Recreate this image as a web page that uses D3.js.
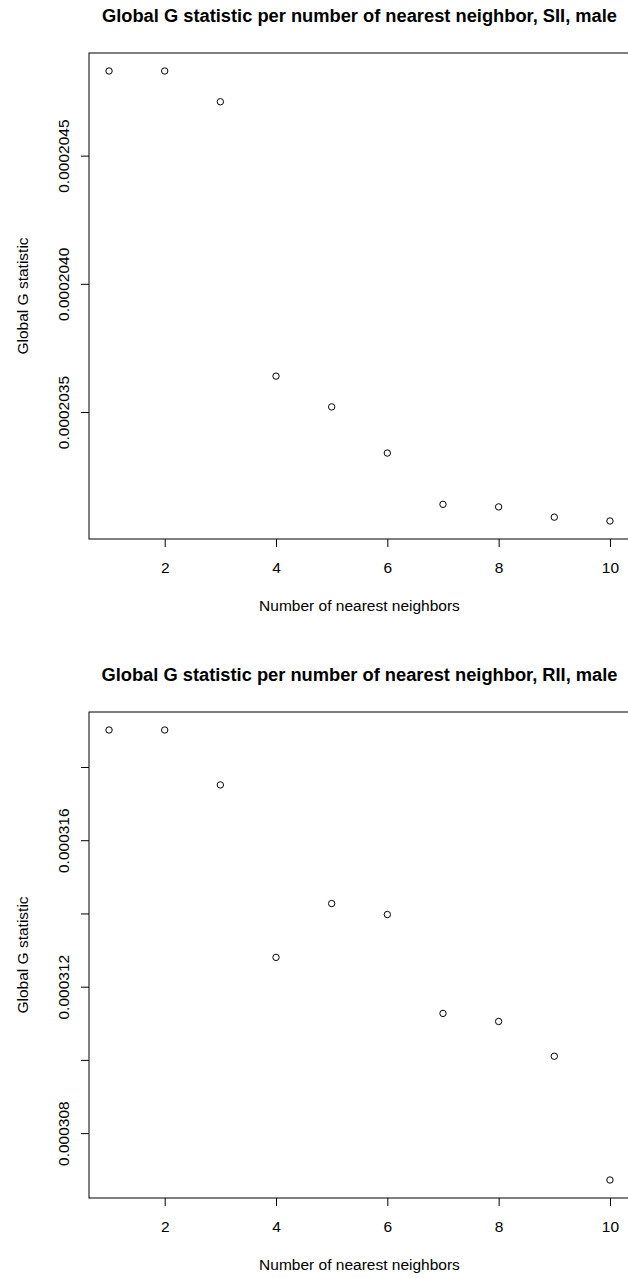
<!DOCTYPE html>
<html>
<head>
<meta charset="utf-8">
<script src="https://cdn.jsdelivr.net/npm/d3@7"></script>
<style>
  body { margin: 0; background: #fff; }
  text { font-family: "Liberation Sans", Arial, Helvetica, sans-serif; fill: #000; }
</style>
</head>
<body>
<svg id="chart" width="628" height="1278"></svg>
<script>
// Data
const neighbors = [1, 2, 3, 4, 5, 6, 7, 8, 9, 10];
const sIIValues = [0.00020483, 0.00020483, 0.00020471, 0.00020364, 0.00020352,
  0.00020334, 0.00020314, 0.00020313, 0.00020309, 0.000203075];
const rIIValues = [0.00031901, 0.00031901, 0.00031751, 0.00031280, 0.00031427,
  0.00031397, 0.00031127, 0.00031105, 0.00031010, 0.00030672];

const xTicks = [2, 4, 6, 8, 10];
const sIITicks = [0.0002035, 0.000204, 0.0002045];
const sIILabels = ["0.0002035", "0.0002040", "0.0002045"];
const rIITicks = [0.000308, 0.00031, 0.000312, 0.000314, 0.000316, 0.000318];
const rIILabels = ["0.000308", "", "0.000312", "", "0.000316", ""];

const titles = [
  "Global G statistic per number of nearest neighbor, SII, male",
  "Global G statistic per number of nearest neighbor, RII, male"
];
const xTitle = "Number of nearest neighbors";
const yTitle = "Global G statistic";

const svg = d3.select("#chart");
const axisFont = "15.5px";
const titleFont = "18.3px";

// R style padding of 4% on each side
function padded(ext) {
  const p = (ext[1] - ext[0]) * 0.04;
  return [ext[0] - p, ext[1] + p];
}

function drawPanel(top, values, yTicks, yLabels, title) {
  const left = 89, right = 630, bottom = top + 486;
  const g = svg.append("g");

  const x = d3.scaleLinear().domain(padded([1, 10])).range([left, right]);
  const y = d3.scaleLinear().domain(padded(d3.extent(values))).range([bottom, top]);

  // title
  g.append("text")
    .attr("x", (left + right) / 2)
    .attr("y", top - 31)
    .attr("text-anchor", "middle")
    .style("font-weight", "bold")
    .style("font-size", titleFont)
    .text(title);

  // x axis
  const xAxis = g.append("g")
    .attr("transform", `translate(0,${bottom})`)
    .call(d3.axisBottom(x).tickValues(xTicks).tickSize(8).tickSizeOuter(0).tickPadding(14.5));
  xAxis.select(".domain").remove();
  xAxis.selectAll("text").style("font-size", axisFont).attr("fill", "#000")
    .style("font-family", "Liberation Sans, Arial, sans-serif");

  // y axis, labels parallel to axis
  const yAxis = g.append("g")
    .attr("transform", `translate(${left},0)`)
    .call(d3.axisLeft(y).tickValues(yTicks).tickSize(8).tickSizeOuter(0)
      .tickFormat((d, i) => yLabels[i]));
  yAxis.select(".domain").remove();
  yAxis.selectAll("text")
    .attr("x", null).attr("dy", null)
    .attr("text-anchor", "middle")
    .attr("transform", "translate(-20.5,0) rotate(-90)")
    .attr("fill", "#000")
    .style("font-size", axisFont)
    .style("font-family", "Liberation Sans, Arial, sans-serif");

  // axis titles
  g.append("text")
    .attr("x", (left + right) / 2)
    .attr("y", bottom + 72)
    .attr("text-anchor", "middle")
    .style("font-size", axisFont)
    .text(xTitle);

  g.append("text")
    .attr("transform", `translate(28,${(top + bottom) / 2}) rotate(-90)`)
    .attr("text-anchor", "middle")
    .style("font-size", axisFont)
    .text(yTitle);

  // box
  g.append("rect")
    .attr("x", left).attr("y", top)
    .attr("width", right - left).attr("height", bottom - top)
    .attr("fill", "none").attr("stroke", "#000").attr("stroke-width", 1);

  // points
  g.selectAll("circle")
    .data(neighbors)
    .join("circle")
    .attr("cx", (d) => x(d))
    .attr("cy", (d, i) => y(values[i]))
    .attr("r", 3.2)
    .attr("fill", "none")
    .attr("stroke", "#000")
    .attr("stroke-width", 1);
}

drawPanel(53, sIIValues, sIITicks, sIILabels, titles[0]);
drawPanel(712, rIIValues, rIITicks, rIILabels, titles[1]);
</script>
</body>
</html>
